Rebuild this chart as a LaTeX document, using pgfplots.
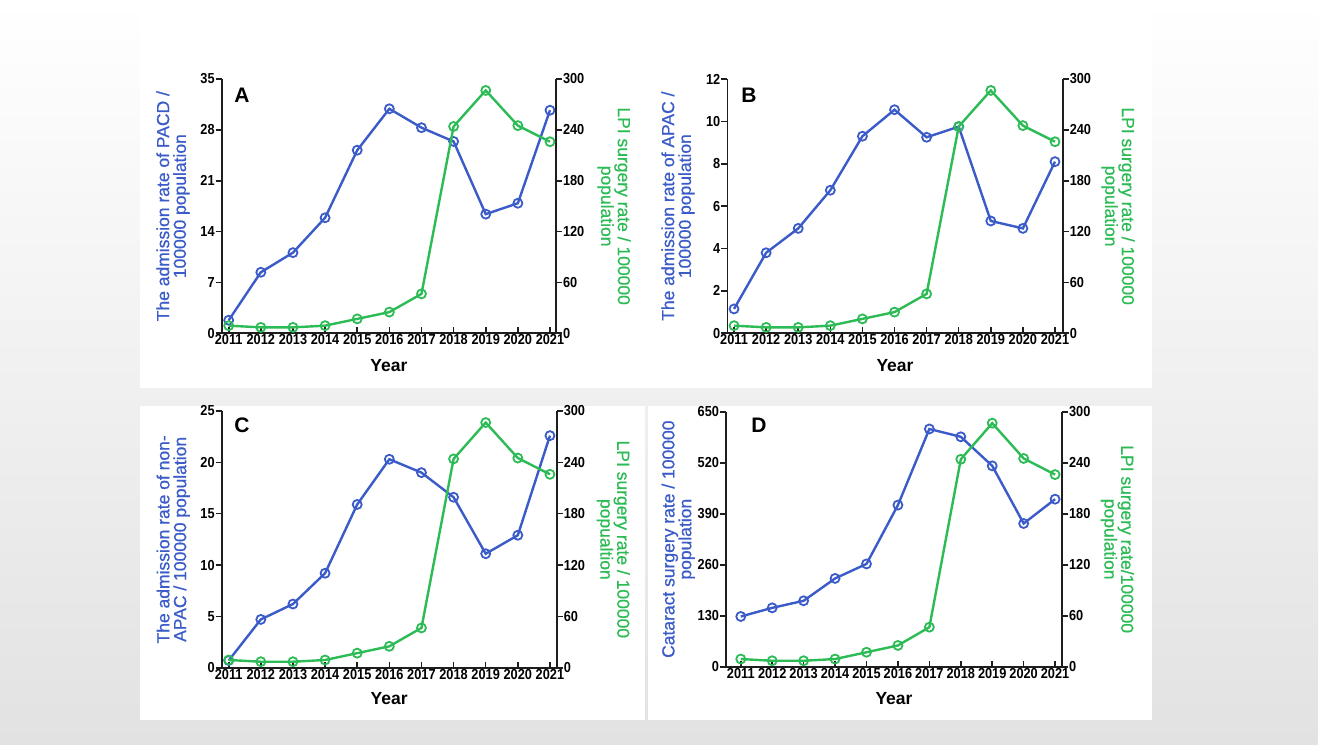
\documentclass[border=0pt]{standalone}
\usepackage{pgfplots}
\pgfplotsset{compat=1.18}
\usepackage{fontspec}
\setmainfont{Liberation Sans}
\newfontfamily\lblfont{Liberation Sans}[BoldFont={Liberation Sans}, BoldFeatures={FakeBold=0.7}]
\definecolor{lblue}{HTML}{3A5BC8}
\definecolor{lgreen}{HTML}{2DBB55}
\definecolor{axc}{HTML}{1E1E1E}
\definecolor{bgb}{HTML}{E2E2E2}

\pgfplotsset{
 base/.style={scale only axis, clip=false,
   xtick={2011,2012,...,2021},
   /pgf/number format/1000 sep={},
   /pgf/number format/assume math mode=true,
   tick label style={font=\fontsize{14.5}{14.5}\selectfont\bfseries, text=black, xscale=0.88},
   axis line style={draw=axc, line width=1.6pt},
   tick style={draw=axc, line width=1.6pt},
   major tick length=6pt,
   xtick align=inside, ytick align=outside,
   yticklabel style={inner sep=1pt},
   xticklabel style={inner sep=1.2pt},
 },
 leftax/.style 2 args={base, axis y line*=left, axis x line*=bottom, ymin=0,
   xlabel={Year},
   every axis x label/.style={at={(axis description cs:0.5,#2)}, anchor=center, font=\fontsize{17.5}{17.5}\selectfont\bfseries},
   every axis y label/.style={at={(axis description cs:#1,0.5)}, rotate=90, anchor=center, align=center, font=\lblfont\bfseries\fontsize{17.5}{16.8}\selectfont, text=lblue},
 },
 rightax/.style={base, axis y line*=right, hide x axis, ymin=0, ymax=300, ytick={0,60,...,300},
   every axis y label/.style={at={(axis description cs:#1,0.5)}, rotate=-90, anchor=center, align=center, font=\lblfont\bfseries\fontsize{17.5}{16.8}\selectfont, text=lgreen},
 },
 blueline/.style={color=lblue, line width=2.4pt, mark=o, mark size=4.5pt, mark options={line width=1.8pt}},
 greenline/.style={color=lgreen, line width=2.4pt, mark=o, mark size=4.5pt, mark options={line width=1.8pt}},
}

\begin{document}
\begin{tikzpicture}
\useasboundingbox (0,0) rectangle (1325pt,750pt);
\fill[white] (0,0) rectangle (1325pt,750pt);
\shade[top color=white, middle color=white!96!black, bottom color=bgb] (0pt,6pt) rectangle (1318pt,750pt);
\fill[white] (140pt,362pt) rectangle (1152pt,745pt);
\fill[white] (140pt,30pt) rectangle (645pt,344pt);
\fill[white] (648pt,30pt) rectangle (1152pt,344pt);

% ---------------- Panel A
\begin{axis}[leftax={-0.1457}{-0.1274}, at={(221.7pt,416.7pt)}, anchor=south west,
  width=334.3pt, height=254.3pt, xmin=2010.782, xmax=2021.187,
  ymax=35, ytick={0,7,...,35},
  ylabel={The admission rate of PACD /\\100000 population}]
\addplot[blueline] coordinates {(2011,1.8) (2012,8.4) (2013,11.1) (2014,15.9) (2015,25.2) (2016,30.9) (2017,28.3) (2018,26.4) (2019,16.4) (2020,17.9) (2021,30.7)};
\end{axis}
\begin{axis}[rightax={1.1735}, at={(221.7pt,416.7pt)}, anchor=south west,
  width=334.3pt, height=254.3pt, xmin=2010.782, xmax=2021.187,
  ylabel={LPI surgery rate / 100000\\population}]
\addplot[greenline] coordinates {(2011,9) (2012,7) (2013,7) (2014,9) (2015,17) (2016,25) (2017,46.5) (2018,244) (2019,286.5) (2020,245) (2021,226)};
\end{axis}

% ---------------- Panel B
\begin{axis}[leftax={-0.147}{-0.1254}, at={(727.3pt,416.7pt)}, anchor=south west,
  width=335.4pt, height=254.3pt, xmin=2010.79, xmax=2021.24,
  ymax=12, ytick={0,2,...,12},
  ylabel={The admission rate of APAC /\\100000 population}]
\addplot[blueline] coordinates {(2011,1.15) (2012,3.8) (2013,4.95) (2014,6.75) (2015,9.3) (2016,10.55) (2017,9.25) (2018,9.75) (2019,5.3) (2020,4.95) (2021,8.1)};
\end{axis}
\begin{axis}[rightax={1.165}, at={(727.3pt,416.7pt)}, anchor=south west,
  width=335.4pt, height=254.3pt, xmin=2010.79, xmax=2021.24,
  ylabel={LPI surgery rate / 100000\\population}]
\addplot[greenline] coordinates {(2011,9) (2012,7) (2013,7) (2014,9) (2015,17) (2016,25) (2017,46.5) (2018,244) (2019,286.5) (2020,245) (2021,226)};
\end{axis}

% ---------------- Panel C
\begin{axis}[leftax={-0.1447}{-0.119}, at={(221.7pt,82.3pt)}, anchor=south west,
  width=335pt, height=256.7pt, xmin=2010.782, xmax=2021.21,
  ymax=25, ytick={0,5,...,25},
  ylabel={The admission rate of non-\\APAC / 100000 population}]
\addplot[blueline] coordinates {(2011,0.7) (2012,4.7) (2013,6.2) (2014,9.2) (2015,15.9) (2016,20.3) (2017,19.0) (2018,16.6) (2019,11.1) (2020,12.9) (2021,22.6)};
\end{axis}
\begin{axis}[rightax={1.169}, at={(221.7pt,82.3pt)}, anchor=south west,
  width=335pt, height=256.7pt, xmin=2010.782, xmax=2021.21,
  ylabel={LPI surgery rate / 100000\\popualtion}]
\addplot[greenline] coordinates {(2011,9) (2012,7) (2013,7) (2014,9) (2015,17) (2016,25) (2017,46.5) (2018,244) (2019,286.5) (2020,245) (2021,226)};
\end{axis}

% ---------------- Panel D
\begin{axis}[leftax={-0.142}{-0.124}, at={(726pt,83.3pt)}, anchor=south west,
  width=336pt, height=255pt, xmin=2010.53, xmax=2021.22,
  ymax=650, ytick={0,130,...,650},
  ylabel={Cataract surgery rate / 100000\\population}]
\addplot[blueline] coordinates {(2011,128) (2012,150) (2013,168) (2014,225) (2015,262) (2016,412) (2017,606) (2018,586) (2019,512) (2020,365) (2021,427)};
\end{axis}
\begin{axis}[rightax={1.1646}, at={(726pt,83.3pt)}, anchor=south west,
  width=336pt, height=255pt, xmin=2010.53, xmax=2021.22,
  ylabel={LPI surgery rate/100000\\population}]
\addplot[greenline] coordinates {(2011,9) (2012,7) (2013,7) (2014,9) (2015,17) (2016,25) (2017,46.5) (2018,244) (2019,286.5) (2020,245) (2021,226)};
\end{axis}

\node[font=\fontsize{21}{21}\selectfont\bfseries] at (242pt,655pt) {A};
\node[font=\fontsize{21}{21}\selectfont\bfseries] at (749pt,655pt) {B};
\node[font=\fontsize{21}{21}\selectfont\bfseries] at (242pt,324.3pt) {C};
\node[font=\fontsize{21}{21}\selectfont\bfseries] at (759pt,324.3pt) {D};
\end{tikzpicture}
\end{document}
